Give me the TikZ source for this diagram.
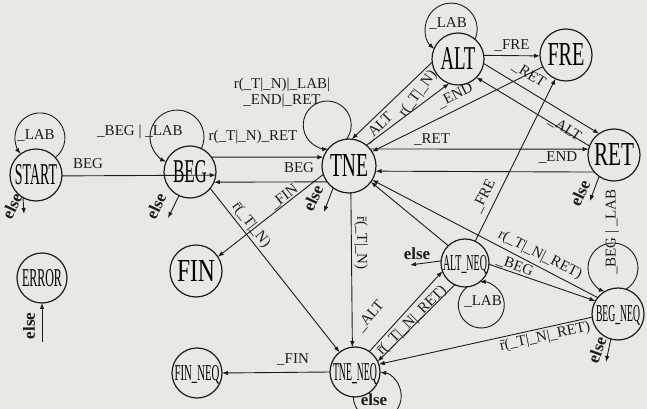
\documentclass[tikz,border=0pt]{standalone}
\usepackage{fontspec}
\setmainfont{Liberation Serif}
\usetikzlibrary{arrows.meta}
\definecolor{paper}{RGB}{232,232,229}
\definecolor{ink}{RGB}{28,28,28}
\newcommand\nlab[3]{\makebox[0pt]{\raisebox{-0.5\height}[0pt][0pt]{\resizebox{#1}{#2}{#3}}}}
\newcommand\selfloop[6]{%
 \pgfmathsetmacro\lpal{acos((#2*#2+#4*#4-#5*#5)/(2*#2*#4))}%
 \pgfmathsetmacro\lpbe{acos((#5*#5+#4*#4-#2*#2)/(2*#5*#4))}%
 \pgfmathtruncatemacro\lpa{round(#3-\lpal)}%
 \pgfmathsetmacro\lps{#3-180+\lpbe}%
 \pgfmathsetmacro\lpe{#3+180-\lpbe}%
 \draw[#6] (#1.\lpa) arc[start angle=\lps, end angle=\lpe, radius=#5];}
\begin{document}
\begin{tikzpicture}[x=1pt,y=1pt,
  st/.style={circle,draw=ink,line width=1.2pt,minimum size=52pt,inner sep=0pt,outer sep=0pt},
  arr/.style={draw=ink,line width=0.9pt,-{Latex[length=6pt,width=4.5pt]}},
  lb/.style={font=\fontsize{15}{16}\selectfont,text=ink,inner sep=0pt},
  el/.style={font=\fontsize{17}{17}\selectfont\bfseries,text=ink,inner sep=0pt}]
\fill[paper] (0,0) rectangle (647,409);
\useasboundingbox (0,0) rectangle (647,409);
\clip (0,0) rectangle (647,409);
% states
\node[st] (START) at (36,234) {\nlab{42pt}{20pt}{START}};
\node[st] (BEG) at (190,237) {\nlab{34pt}{22pt}{BEG}};
\node[st,minimum size=54pt] (TNE) at (349,243) {\nlab{38pt}{22pt}{TNE}};
\node[st] (ALT) at (458,350) {\nlab{35pt}{22pt}{ALT}};
\node[st] (FRE) at (566,354) {\nlab{37pt}{22pt}{FRE}};
\node[st] (RET) at (614,254) {\nlab{40pt}{22pt}{RET}};
\node[st] (FIN) at (196,138) {\nlab{38pt}{21pt}{FIN}};
\node[st,minimum size=50pt] (ERROR) at (42,131) {\nlab{40pt}{17pt}{ERROR}};
\node[st,minimum size=48pt] (ALTNEQ) at (465,146) {\nlab{44pt}{15pt}{ALT\_NEQ}};
\node[st] (BEGNEQ) at (618,95) {\nlab{44pt}{16pt}{BEG\_NEQ}};
\node[st,minimum size=50pt] (TNENEQ) at (355,37) {\nlab{44pt}{17pt}{TNE\_NEQ}};
\node[st,minimum size=50pt] (FINNEQ) at (197,36) {\nlab{45pt}{15pt}{FIN\_NEQ}};
% START
\draw[arr] (START.-2) -- (BEG.-7);
\node[lb] (lStartBeg) at (88,245) {BEG};
\selfloop{START}{26}{83.8}{37.2}{25}{arr}
\node[lb] (lStartLoop) at (36,273) {\_LAB};
\coordinate (eStart) at (24,195);
\draw[arr] (START.240) -- (eStart);
\node[el,rotate=65] (lStartElse) at (12,203) {else};
% ERROR
\coordinate (eError) at (42,67);
\draw[arr] (eError) -- (ERROR.270);
\node[el,rotate=90] (lErrElse) at (29,83) {else};
% BEG
\selfloop{BEG}{26}{110.4}{37.3}{27}{arr}
\node[lb] (lBegLoop) at (140,277) {\_BEG | \_LAB};
\draw[arr] (BEG.35) -- (TNE.161);
\node[lb] (lBegTne) at (253,272) {r(\_T|\_N)\_RET};
\draw[arr] (TNE.216) -- (BEG.-23);
\node[lb] (lTneBeg) at (299,241) {BEG};
\coordinate (eBeg) at (168,191);
\draw[arr] (BEG.245) -- (eBeg);
\node[el,rotate=65] (lBegElse) at (156,203) {else};
\draw[arr] (BEG.-39) -- (TNENEQ.128);
\node[lb,rotate=-52] (lBegTneq) at (251,184) {\=r(\_T|\_N)};
% TNE
\selfloop{TNE}{27}{118.2}{46.5}{24}{arr}
\node[lb,align=center] (lTneLoop) at (282,316) {r(\_T|\_N)|\_LAB|\\\_END|\_RET};
\draw[arr] (ALT.187) -- (TNE.84);
\node[lb,rotate=53] (lAltTne) at (418,315) {r(\_T|\_N)};
\draw[arr] (TNE.50) -- (ALT.250);
\node[lb,rotate=45] (lTneAlt) at (378,281) {\_ALT};
\draw[arr] (FRE.207) -- (TNE.32);
\node[lb,rotate=27] (lFreTne) at (455,313) {\_END};
\draw[arr] (TNE.39) -- (RET.167);
\node[lb] (lTneRet) at (432,269) {\_RET};
\draw[arr] (RET.221) -- (TNE.-11);
\node[lb] (lRetTne) at (558,251) {\_END};
\draw[arr] (TNE.198) -- (FIN.33);
\node[lb,rotate=38] (lTneFin) at (284,212) {\_FIN};
\coordinate (eTne) at (324,197);
\draw[arr] (TNE.234) -- (eTne);
\node[el,rotate=65] (lTneElse) at (313,211) {else};
\draw[arr] (TNE.-86) -- (TNENEQ.96);
\node[lb,rotate=-90] (lTneTneq) at (361,166) {\=r(\_T|\_N)};
% ALT, FRE, RET
\draw[arr] (ALT.8) -- (FRE.182);
\node[lb] (lAltFre) at (512,363) {\_FRE};
\draw[arr] (ALT.-10) -- (RET.125);
\node[lb,rotate=-32] (lAltRet) at (529,334) {\_RET};
\draw[arr] (RET.160) -- (ALT.-45);
\node[lb,rotate=-33] (lRetAlt) at (565,280) {\_ALT};
\selfloop{ALT}{26}{103}{30.8}{26}{arr}
\node[lb] (lAltLoop) at (448,385) {\_LAB};
\coordinate (eRet) at (590,208);
\draw[arr] (RET.235) -- (eRet);
\node[el,rotate=65] (lRetElse) at (580,216) {else};
% NEQ states
\draw[arr] (TNENEQ.180) -- (FINNEQ.0);
\node[lb] (lTneqFin) at (293,49) {\_FIN};
\selfloop{TNENEQ}{25}{-47.5}{32.6}{24}{arr}
\node[el] (lTneqElse) at (374,9) {else};
\draw[arr] (TNENEQ.55) -- (ALTNEQ.200);
\node[lb,rotate=50] (lTneqAlt) at (370,93) {\_ALT};
\draw[arr] (ALTNEQ.245) -- (TNENEQ.25);
\node[lb,rotate=45] (lAneqTneq) at (412,88) {\=r(\_T|\_N|\_RET)};
\coordinate (eAneq) at (410,144);
\draw[arr] (ALTNEQ.175) -- (eAneq);
\node[el] (lAneqElse) at (417,155) {else};
\selfloop{ALTNEQ}{24}{-69}{45}{23}{arr}
\node[lb] (lAneqLoop) at (483,107) {\_LAB};
\draw[arr] (ALTNEQ.65) -- (FRE.246);
\node[lb,rotate=63] (lAneqFre) at (484,213) {\_FRE};
\draw[arr] (ALTNEQ.-3) -- (BEGNEQ.150);
\node[lb,rotate=-20] (lAneqBneq) at (515,143) {\_BEG};
\draw[arr] (ALTNEQ.134) -- (TNE.-36);
\draw[arr] (BEGNEQ.141) -- (TNE.-31);
\node[lb,rotate=-27] (lBneqTne) at (540,154) {r(\_T|\_N|\_RET)};
\draw[arr] (BEGNEQ.187) -- (TNENEQ.18);
\node[lb,rotate=12] (lBneqTneq) at (545,72) {\=r(\_T|\_N|\_RET)};
\selfloop{BEGNEQ}{26}{96.2}{46.3}{25}{arr}
\node[lb,rotate=90] (lBneqLoop) at (612,177) {\_BEG | \_LAB};
\coordinate (eBneq) at (606,47);
\draw[arr] (BEGNEQ.254) -- (eBneq);
\node[el,rotate=70] (lBneqElse) at (597,59) {else};
\end{tikzpicture}
\end{document}
